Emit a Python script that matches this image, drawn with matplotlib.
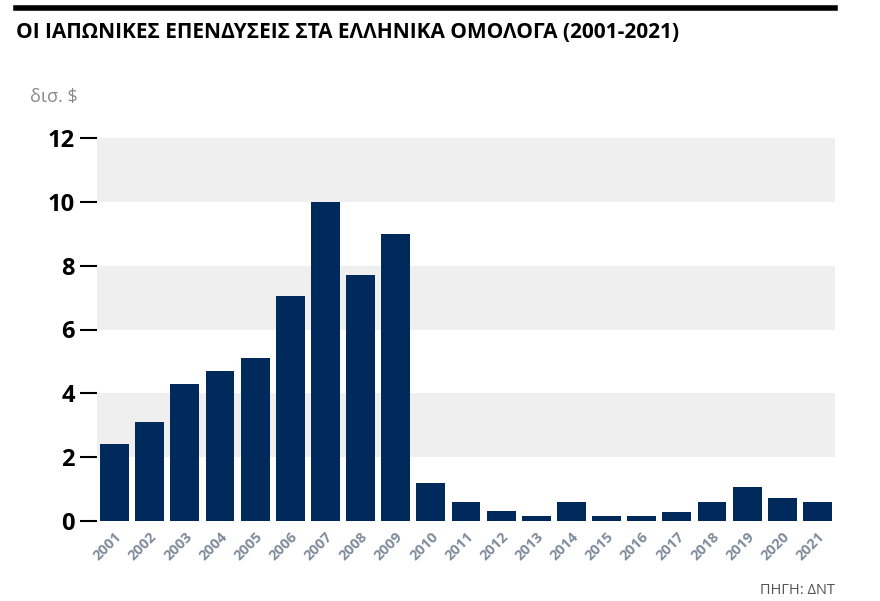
import matplotlib.pyplot as plt
import numpy as np

years = [str(y) for y in range(2001, 2022)]
values = [2.4, 3.1, 4.3, 4.7, 5.1, 7.05, 10.0, 7.7, 9.0, 1.2, 0.6, 0.3, 0.15,
          0.6, 0.15, 0.15, 0.28, 0.6, 1.05, 0.72, 0.6]
yticks = [0, 2, 4, 6, 8, 10, 12]

plt.rcParams['font.family'] = ['Open Sans', 'DejaVu Sans']

fig = plt.figure(figsize=(8.8, 6.01), dpi=100)
ax = fig.add_axes([97 / 880, 1 - 521 / 601, (835 - 97) / 880, (521 - 138) / 601])

# alternating grey bands
for lo in (2, 6, 10):
    ax.axhspan(lo, lo + 2, color='#efefef', zorder=0, lw=0)

x = np.arange(len(years))
ax.bar(x, values, width=0.82, color='#002a5c', zorder=2)

ax.set_xlim(-0.5, len(years) - 0.5)
ax.set_ylim(0, 12)
ax.set_yticks(yticks)
ax.set_yticklabels([str(t) for t in yticks], fontsize=17, fontweight='bold')
ax.tick_params(axis='y', length=12, width=1.5, pad=4, direction='out')
ax.set_xticks(x)
ax.set_xticklabels(years, rotation=45, ha='right', rotation_mode='anchor',
                   fontsize=10.5, fontweight='bold', color='#7f8c9c')
ax.tick_params(axis='x', length=0, pad=6)
for s in ax.spines.values():
    s.set_visible(False)

# header
fig.add_artist(plt.Line2D([16 / 880, 835 / 880], [1 - 8 / 601] * 2, color='black', lw=4))
fig.text(16 / 880, 1 - 32 / 601, 'ΟΙ ΙΑΠΩΝΙΚΕΣ ΕΠΕΝΔΥΣΕΙΣ ΣΤΑ ΕΛΛΗΝΙΚΑ ΟΜΟΛΟΓΑ (2001-2021)',
         fontsize=15, fontweight='bold', va='center', ha='left')
fig.text(30 / 880, 1 - 97 / 601, 'δισ. $', fontsize=13, color='#888888', va='center')
fig.text(835 / 880, 1 - 590 / 601, 'ΠΗΓΗ: ΔΝΤ', fontsize=10.5, color='#555555',
         ha='right', va='center')

fig.savefig('out.png', dpi=100)
